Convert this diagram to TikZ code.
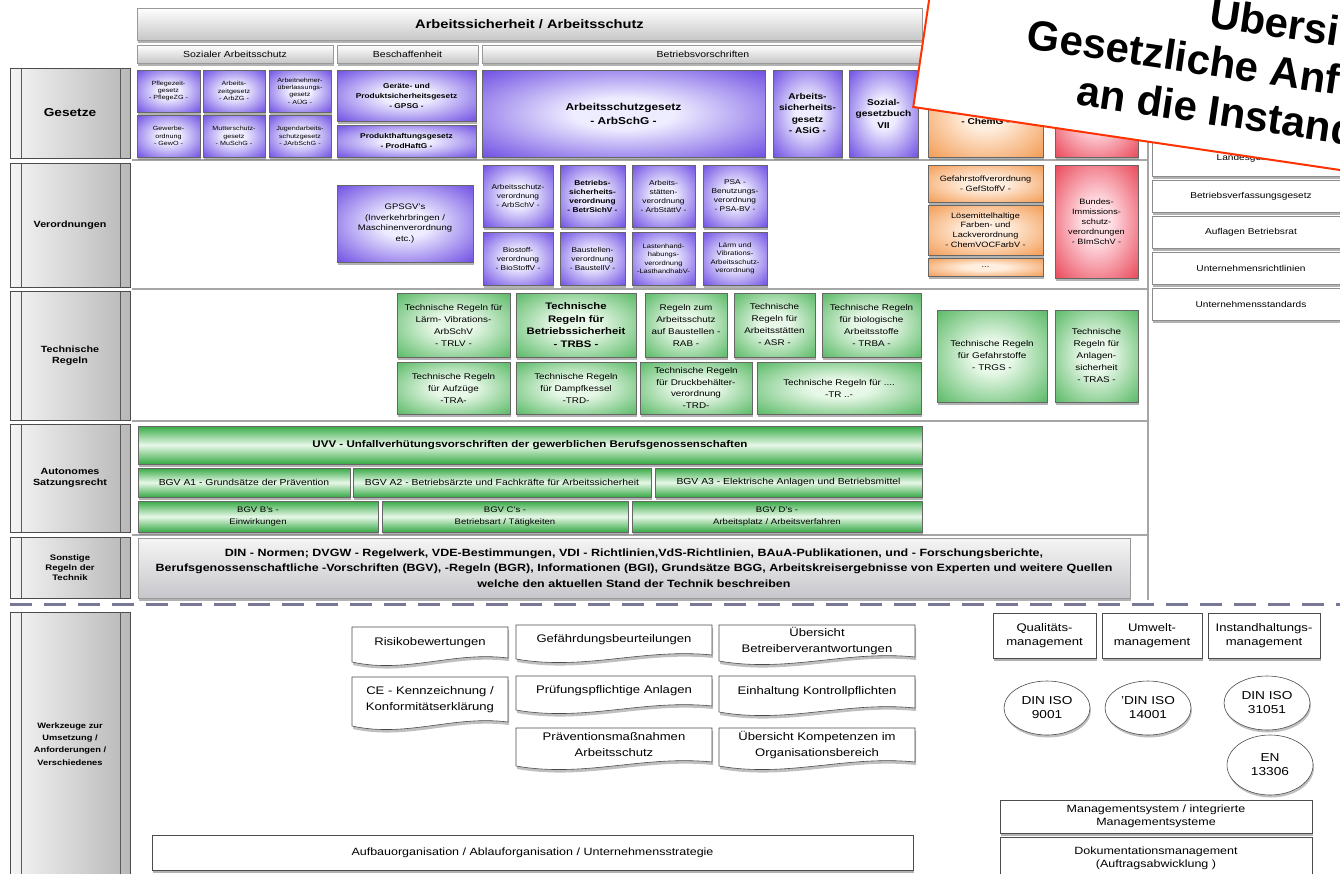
\documentclass[tikz,border=0pt]{standalone}
\usepackage{xcolor}
\usepackage{fontspec}
\setmainfont{Liberation Sans}[FakeStretch=1.19]
\newfontfamily\titelschrift{Liberation Sans}
\usepackage{tikz}
\usetikzlibrary{shapes.geometric}
\usetikzlibrary{shadows}

\definecolor{lila}{RGB}{80,40,220}
\definecolor{lilahell}{RGB}{238,236,255}
\definecolor{orangerand}{RGB}{240,135,50}
\definecolor{orangehell}{RGB}{255,238,222}
\definecolor{rotrand}{RGB}{228,35,55}
\definecolor{rothell}{RGB}{255,222,228}
\definecolor{gruenrand}{RGB}{55,170,70}
\definecolor{gruenhell}{RGB}{232,248,232}
\definecolor{titelrot}{RGB}{255,50,0}
\definecolor{strichgrau}{RGB}{120,120,150}
\colorlet{kinnen}{white}
\colorlet{kaussen}{black}

\pgfdeclareradialshading[kinnen,kaussen]{kissen}{\pgfpoint{0bp}{0bp}}{color(0bp)=(kinnen); color(9bp)=(kinnen); color(42bp)=(kaussen); color(50bp)=(kaussen)}

\newcommand{\schrift}[2]{\fontsize{#1}{#2}\selectfont}

% box from corner (#3,#4) to corner (#5,#6)
\newcommand{\feld}[7]{%
  \pgfmathsetmacro{\feldbreite}{#5-#3}%
  \pgfmathsetmacro{\feldhoehe}{#6-#4}%
  \pgfmathsetmacro{\feldtext}{#5-#3-6}%
  \node[#1, minimum width=\feldbreite pt, minimum height=\feldhoehe pt, text width=\feldtext pt] (#2) at ({(#3+#5)/2},{(#4+#6)/2}) {#7};%
}

% document shape with wavy bottom
\newcommand{\dokument}[6]{%
  \pgfmathsetmacro{\dokwelle}{0.35*(#4-#2)}%
  \pgfmathsetmacro{\doktext}{#4-#2-8}%
  \filldraw[dokrand] (#2,#3) -- (#4,#3) -- (#4,#5) .. controls +(-\dokwelle,-7) and +(\dokwelle,12) .. (#2,#5+4) -- cycle;%
  \node[doktext, text width=\doktext pt] (#1) at ({(#2+#4)/2},{(#3+#5)/2}) {#6};%
}

\tikzset{
  kasten/.style={inner sep=3pt, align=center, draw=black!60, line width=0.6pt,
    drop shadow={shadow xshift=1pt, shadow yshift=-2.5pt, opacity=0.6}},
  kopfbalken/.style={kasten, draw=black!40, top color=white, bottom color=black!22},
  lilabox/.style={kasten, /utils/exec={\colorlet{kinnen}{lilahell}\colorlet{kaussen}{lila}}, shading=kissen},
  orangebox/.style={kasten, /utils/exec={\colorlet{kinnen}{orangehell}\colorlet{kaussen}{orangerand}}, shading=kissen},
  rotbox/.style={kasten, /utils/exec={\colorlet{kinnen}{rothell}\colorlet{kaussen}{rotrand}}, shading=kissen},
  gruenbox/.style={kasten, /utils/exec={\colorlet{kinnen}{gruenhell}\colorlet{kaussen}{gruenrand}}, shading=kissen},
  gruenband/.style={kasten, top color=gruenrand, bottom color=gruenrand, middle color=gruenhell},
  weissbox/.style={kasten, draw=black!45, fill=white},
  zeilenkopf/.style={inner sep=2pt, align=center, draw=black!70, line width=0.8pt,
    left color=black!4, right color=black!28, font=\bfseries\schrift{9}{11}},
  sonstigebox/.style={kasten, draw=black!40, top color=black!4, bottom color=blue!8!black!22},
  dokrand/.style={draw=black!70, fill=white, line width=0.6pt,
    drop shadow={shadow xshift=1pt, shadow yshift=-3pt, opacity=0.5}},
  doktext/.style={inner sep=0pt, align=center, font=\schrift{11}{16}},
  isoellipse/.style={ellipse, draw=black!70, fill=white, line width=0.6pt, inner sep=0pt,
    minimum width=86pt, minimum height=54pt, align=center, font=\schrift{11.5}{14},
    drop shadow={shadow xshift=1pt, shadow yshift=-2.5pt, opacity=0.5}},
  trennlinie/.style={draw=black!35, line width=1.2pt},
  titelbox/.style={rotate=-8.4, draw=titelrot, line width=2pt, fill=white, align=center,
    minimum width=754pt, minimum height=175pt, font=\titelschrift\bfseries\schrift{42}{48}}
}

\begin{document}
\begin{tikzpicture}[x=1pt,y=-1pt]
        \useasboundingbox (0,0) rectangle (1340,873);%
        \clip (0,0) rectangle (1340,873);%
        \fill[white] (0,0) rectangle (1340,873);%

        % Drawing separator lines
        \draw[trennlinie] (132,160) -- (1148,160);%
        \draw[trennlinie] (132,289) -- (1148,289);%
        \draw[trennlinie] (132,421) -- (1148,421);%
        \draw[trennlinie] (132,535) -- (1148,535);%
        \draw[trennlinie] (1148,62) -- (1148,600);%
        \draw[strichgrau, line width=3pt, dash pattern=on 22pt off 12pt] (10,604) -- (1340,604);%

        % Drawing row labels
        \feld{zeilenkopf, font=\bfseries\schrift{11.5}{13}}{lgesetze}{10}{68}{130}{158}{Gesetze}%
        \feld{zeilenkopf}{lverord}{10}{163}{130}{287}{Verordnungen}%
        \feld{zeilenkopf}{ltechnik}{10}{291}{130}{420}{Technische\\Regeln}%
        \feld{zeilenkopf}{lsatzung}{10}{424}{130}{532}{Autonomes\\Satzungsrecht}%
        \feld{zeilenkopf, font=\bfseries\schrift{8}{10}}{lsonstige}{10}{537}{130}{598}{Sonstige\\Regeln der\\Technik}%
        \feld{zeilenkopf, font=\bfseries\schrift{7.8}{12.3}}{lwerkzeuge}{10}{612}{130}{876}{Werkzeuge zur\\Umsetzung /\\Anforderungen /\\Verschiedenes}%
        \foreach \n in {lgesetze,lverord,ltechnik,lsatzung,lsonstige,lwerkzeuge} {%
          \draw[black!65] ([xshift=12pt]\n.north west) -- ([xshift=12pt]\n.south west);%
          \draw[black!65] ([xshift=-10pt]\n.north east) -- ([xshift=-10pt]\n.south east);%
        }

        % Drawing header bars
        \feld{kopfbalken, font=\bfseries\schrift{12.3}{14}}{kopf}{137}{8}{922}{40}{Arbeitssicherheit / Arbeitsschutz}%
        \feld{kopfbalken, font=\schrift{8.8}{10}}{sozial}{137}{45}{333}{63}{Sozialer Arbeitsschutz}%
        \feld{kopfbalken, font=\schrift{8.8}{10}}{beschaff}{337}{45}{478}{63}{Beschaffenheit}%
        \feld{kopfbalken, font=\schrift{8.8}{10}}{betrieb}{482}{45}{924}{63}{Betriebsvorschriften}%

        % Drawing row Gesetze
        \feld{lilabox, font=\schrift{6}{7.4}}{pflegezg}{137}{70}{200}{112}{Pflegezeit-\\gesetz\\- PflegeZG -}%
        \feld{lilabox, font=\schrift{6}{7.4}}{arbzg}{203}{70}{265}{112}{Arbeits-\\zeitgesetz\\- ArbZG -}%
        \feld{lilabox, font=\schrift{6}{7.4}}{aueg}{269}{70}{331}{112}{Arbeitnehmer-\\überlassungs-\\gesetz\\- AÜG -}%
        \feld{lilabox, font=\schrift{6}{7.4}}{gewo}{137}{115}{200}{157}{Gewerbe-\\ordnung\\- GewO -}%
        \feld{lilabox, font=\schrift{6}{7.4}}{muschg}{203}{115}{265}{157}{Mutterschutz-\\gesetz\\- MuSchG -}%
        \feld{lilabox, font=\schrift{6}{7.4}}{jarbschg}{269}{115}{331}{157}{Jugendarbeits-\\schutzgesetz\\- JArbSchG -}%
        \feld{lilabox, font=\bfseries\schrift{7}{10}}{gpsg}{337}{70}{476}{121}{Geräte- und\\Produktsicherheitsgesetz\\- GPSG -}%
        \feld{lilabox, font=\bfseries\schrift{7}{10}}{prodhaftg}{337}{125}{476}{157}{Produkthaftungsgesetz\\- ProdHaftG -}%
        \feld{lilabox, font=\bfseries\schrift{10}{14}}{arbschg}{482}{70}{765}{157}{Arbeitsschutzgesetz\\- ArbSchG -}%
        \feld{lilabox, font=\bfseries\schrift{8.5}{11.5}}{asig}{773}{70}{842}{157}{Arbeits-\\sicherheits-\\gesetz\\- ASiG -}%
        \feld{lilabox, font=\bfseries\schrift{8.5}{11.5}}{sgb}{849}{70}{918}{157}{Sozial-\\gesetzbuch\\VII}%
        \feld{orangebox}{chemg}{928}{70}{1043}{157}{}%
        \node[font=\bfseries\schrift{8.5}{10}] (chemgtext) at (985.5,121) {- ChemG -};%
        \feld{rotbox}{bimschg}{1055}{70}{1138}{157}{}%
        \feld{weissbox, font=\schrift{8.5}{10}}{landesg}{1152}{140}{1350}{176}{Landesgesetze}%

        % Drawing row Verordnungen
        \feld{lilabox, font=\schrift{8}{10.5}}{gpsgv}{337}{185}{473}{262}{GPSGV's\\(Inverkehrbringen /\\Maschinenverordnung\\etc.)}%
        \feld{lilabox, font=\schrift{7}{9}}{arbschv}{483}{165}{553}{227}{Arbeitsschutz-\\verordnung\\- ArbSchV -}%
        \feld{lilabox, font=\bfseries\schrift{7}{9}}{betrsichv}{560}{165}{625}{227}{Betriebs-\\sicherheits-\\verordnung\\- BetrSichV -}%
        \feld{lilabox, font=\schrift{7}{9}}{arbstaettv}{632}{165}{695}{227}{Arbeits-\\stätten-\\verordnung\\- ArbStättV -}%
        \feld{lilabox, font=\schrift{7}{9}}{psabv}{703}{165}{767}{227}{PSA -\\Benutzungs-\\verordnung\\- PSA-BV -}%
        \feld{lilabox, font=\schrift{7}{9}}{biostoffv}{483}{232}{553}{285}{Biostoff-\\verordnung\\- BioStoffV -}%
        \feld{lilabox, font=\schrift{7}{9}}{baustellv}{560}{232}{625}{285}{Baustellen-\\verordnung\\- BaustellV -}%
        \feld{lilabox, font=\schrift{6.3}{8.5}}{lasthandhabv}{632}{232}{695}{285}{Lastenhand-\\habungs-\\verordnung\\-LasthandhabV-}%
        \feld{lilabox, font=\schrift{6.5}{8.5}}{laermv}{703}{232}{767}{285}{Lärm und\\Vibrations-\\Arbeitsschutz-\\verordnung}%
        \feld{orangebox, font=\schrift{7.7}{10}}{gefstoffv}{928}{165}{1043}{202}{Gefahrstoffverordnung\\- GefStoffV -}%
        \feld{orangebox, font=\schrift{7.7}{9.8}}{chemvocfarbv}{928}{205}{1043}{255}{Lösemittelhaltige\\Farben- und\\Lackverordnung\\- ChemVOCFarbV -}%
        \feld{orangebox, font=\schrift{7.7}{9}}{weitere}{928}{258}{1043}{276}{...}%
        \feld{rotbox, font=\schrift{7.7}{10}}{bimschv}{1055}{165}{1138}{278}{Bundes-\\Immissions-\\schutz-\\verordnungen\\- BImSchV -}%
        \feld{weissbox, font=\schrift{8.5}{10}}{betrvg}{1152}{180}{1350}{212}{Betriebsverfassungsgesetz}%
        \feld{weissbox, font=\schrift{8.5}{10}}{betriebsrat}{1152}{216}{1350}{248}{Auflagen Betriebsrat}%
        \feld{weissbox, font=\schrift{8.5}{10}}{richtlinien}{1152}{252}{1350}{284}{Unternehmensrichtlinien}%
        \feld{weissbox, font=\schrift{8.5}{10}}{standards}{1152}{288}{1350}{320}{Unternehmensstandards}%

        % Drawing row Technische Regeln
        \feld{gruenbox, font=\schrift{8.3}{12}}{trlv}{397}{293}{510}{357}{Technische Regeln für\\Lärm- Vibrations-\\ArbSchV\\- TRLV -}%
        \feld{gruenbox, font=\bfseries\schrift{9.5}{12.5}}{trbs}{516}{293}{636}{357}{Technische\\Regeln für\\Betriebssicherheit\\- TRBS -}%
        \feld{gruenbox, font=\schrift{8.3}{12}}{rab}{645}{293}{727}{357}{Regeln zum\\Arbeitsschutz\\auf Baustellen -\\RAB -}%
        \feld{gruenbox, font=\schrift{8.3}{12}}{asr}{734}{293}{815}{357}{Technische\\Regeln für\\Arbeitsstätten\\- ASR -}%
        \feld{gruenbox, font=\schrift{8.3}{12}}{trba}{822}{293}{921}{357}{Technische Regeln\\für biologische\\Arbeitsstoffe\\- TRBA -}%
        \feld{gruenbox, font=\schrift{8.3}{12}}{tra}{397}{362}{510}{414}{Technische Regeln\\für Aufzüge\\-TRA-}%
        \feld{gruenbox, font=\schrift{8.3}{12}}{trd}{516}{362}{636}{414}{Technische Regeln\\für Dampfkessel\\-TRD-}%
        \feld{gruenbox, font=\schrift{8.3}{11.5}}{trdb}{640}{362}{752}{414}{Technische Regeln\\für Druckbehälter-\\verordnung\\-TRD-}%
        \feld{gruenbox, font=\schrift{8.3}{12}}{trweitere}{757}{362}{921}{414}{Technische Regeln für ....\\-TR ..-}%
        \feld{gruenbox, font=\schrift{8.3}{12}}{trgs}{937}{310}{1047}{402}{Technische Regeln\\für Gefahrstoffe\\- TRGS -}%
        \feld{gruenbox, font=\schrift{8.3}{12}}{tras}{1055}{310}{1138}{402}{Technische\\Regeln für\\Anlagen-\\sicherheit\\- TRAS -}%

        % Drawing row Autonomes Satzungsrecht
        \feld{gruenband, font=\bfseries\schrift{9.7}{11}}{uvv}{138}{426}{922}{464}{UVV - Unfallverhütungsvorschriften der gewerblichen Berufsgenossenschaften}%
        \feld{gruenband, font=\schrift{8.7}{10}}{bgva1}{138}{468}{350}{497}{BGV A1 - Grundsätze der Prävention}%
        \feld{gruenband, font=\schrift{8.7}{10}}{bgva2}{353}{468}{651}{497}{BGV A2 - Betriebsärzte und Fachkräfte für Arbeitssicherheit}%
        \feld{gruenband, font=\schrift{8.7}{10}}{bgva3}{655}{468}{922}{497}{BGV A3 - Elektrische Anlagen und Betriebsmittel}%
        \feld{gruenband, font=\schrift{8}{12}}{bgvb}{138}{501}{378}{532}{BGV B's -\\Einwirkungen}%
        \feld{gruenband, font=\schrift{8}{12}}{bgvc}{382}{501}{628}{532}{BGV C's -\\Betriebsart / Tätigkeiten}%
        \feld{gruenband, font=\schrift{8}{12}}{bgvd}{632}{501}{922}{532}{BGV D's -\\Arbeitsplatz / Arbeitsverfahren}%

        % Drawing row Sonstige Regeln der Technik
        \feld{sonstigebox, font=\bfseries\schrift{10.5}{15.5}}{sonstige}{138}{538}{1130}{598}{DIN - Normen; DVGW - Regelwerk, VDE-Bestimmungen, VDI - Richtlinien,VdS-Richtlinien, BAuA-Publikationen, und - Forschungsberichte,\\Berufsgenossenschaftliche -Vorschriften (BGV), -Regeln (BGR), Informationen (BGI), Grundsätze BGG, Arbeitskreisergebnisse von Experten und weitere Quellen\\welche den aktuellen Stand der Technik beschreiben}%

        % Drawing row Werkzeuge
        \dokument{risiko}{352}{627}{508}{658}{Risikobewertungen}%
        \dokument{gefaehrdung}{516}{625}{712}{655}{Gefährdungsbeurteilungen}%
        \dokument{betreiber}{719}{625}{915}{657}{Übersicht\\Betreiberverantwortungen}%
        \dokument{ce}{352}{677}{508}{722}{CE - Kennzeichnung /\\Konformitätserklärung}%
        \dokument{pruefung}{516}{676}{712}{706}{Prüfungspflichtige Anlagen}%
        \dokument{kontrolle}{719}{676}{915}{708}{Einhaltung Kontrollpflichten}%
        \dokument{praevention}{516}{728}{712}{762}{Präventionsmaßnahmen\\Arbeitsschutz}%
        \dokument{kompetenz}{719}{728}{915}{762}{Übersicht Kompetenzen im\\Organisationsbereich}%
        \feld{weissbox, draw=black!70, font=\schrift{10.5}{12}}{aufbau}{152}{835}{913}{870}{Aufbauorganisation / Ablauforganisation / Unternehmensstrategie}%

        % Drawing management systems
        \feld{weissbox, draw=black!70, font=\schrift{11}{14}}{qm}{993}{613}{1096}{658}{Qualitäts-\\management}%
        \feld{weissbox, draw=black!70, font=\schrift{11}{14}}{um}{1102}{613}{1202}{658}{Umwelt-\\management}%
        \feld{weissbox, draw=black!70, font=\schrift{11}{14}}{im}{1208}{613}{1320}{658}{Instandhaltungs-\\management}%
        \node[isoellipse] (iso9001) at (1047,708) {DIN ISO\\9001};%
        \node[isoellipse] (iso14001) at (1148,708) {'DIN ISO\\14001};%
        \node[isoellipse] (iso31051) at (1267,703) {DIN ISO\\31051};%
        \node[isoellipse, minimum height=60pt] (en13306) at (1270,765) {EN\\13306};%
        \feld{weissbox, draw=black!70, font=\schrift{10.5}{13}}{mgmtsys}{1000}{800}{1312}{833}{Managementsystem / integrierte\\Managementsysteme}%
        \feld{weissbox, draw=black!70, font=\schrift{10.5}{13}}{doku}{1000}{837}{1312}{880}{Dokumentationsmanagement\\(Auftragsabwicklung )}%

        % Drawing title card
        \node[titelbox] (titel) at (1299,75.5) {Übersicht\\Gesetzliche Anforderungen\\an die Instandhaltung};%
\end{tikzpicture}
\end{document}
